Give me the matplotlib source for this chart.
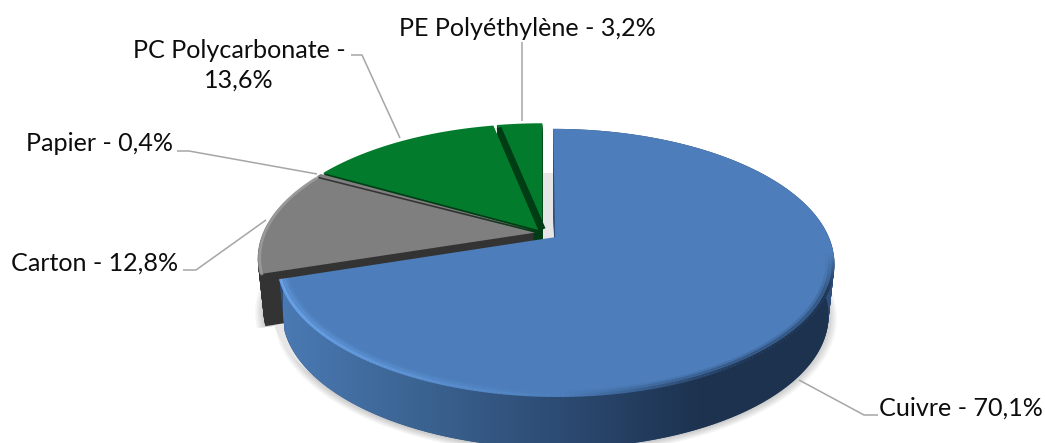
import matplotlib
matplotlib.use('Agg')
import matplotlib.pyplot as plt
import numpy as np
from matplotlib.collections import LineCollection
from matplotlib.colors import LinearSegmentedColormap, to_rgb
from matplotlib.patches import PathPatch
from matplotlib.path import Path
from matplotlib.transforms import Affine2D, Transform

# slices, clockwise from 12 o'clock
labels = ['Cuivre - 70,1%', 'Carton - 12,8%', 'Papier - 0,4%',
          'PC Polycarbonate -\n13,6%', 'PE Polyéthylène - 3,2%']
values = [70.1, 12.8, 0.4, 13.6, 3.2]
explode = [0.055, 0.03, 0.03, 0.03, 0.03]
top_colors = ['#4d7ebb', '#7f7f7f', '#7f7f7f', '#037b2d', '#037b2d']
side_colors = ['#2f4f7a', '#333333', '#333333', '#003c14', '#003c14']

W, H = 1045, 443
CX, CY = 543, 233   # pixel position of pie centre
A, B, K = 272.0, 127.3, -0.189
DEPTH = 52
SHRINK = 0.02


def tilt(xy, dy=0.0):
    xy = np.asarray(xy, dtype=float)
    d = 1 - K * xy[:, 1]
    s = 1 - SHRINK * dy / DEPTH
    return np.column_stack([CX + s * A * xy[:, 0] / d,
                            (H - CY) + B * xy[:, 1] / d - dy])


class Tilt(Transform):
    # perspective squash of the flat pie, output is in pixels
    input_dims = 2
    output_dims = 2
    is_separable = False
    has_inverse = False

    def __init__(self, dy=0.0):
        super().__init__()
        self.dy = dy

    def transform_non_affine(self, xy):
        return tilt(xy, self.dy)

    def transform_path_non_affine(self, path):
        # flatten curves at a large scale so the arc stays smooth
        big = path.transformed(Affine2D().scale(1000))
        v = big.to_polygons(closed_only=True)[0] / 1000
        return Path(tilt(v, self.dy), closed=True)


fig = plt.figure(figsize=(W / 100, H / 100), dpi=100)
ax = fig.add_axes([0, 0, 1, 1])
ax.axis('off')


def draw_pie(colors, dy, z, radius=1.0, expl=explode, alpha=None):
    wedges, _ = ax.pie(values, colors=colors, explode=expl, startangle=90,
                       counterclock=False, radius=radius, normalize=True)
    for w in wedges:
        w.set_zorder(z)
        w.set_transform(w.get_patch_transform() + Tilt(dy))
        w.set_edgecolor('none')
        w.set_clip_on(False)
        if alpha is not None:
            w.set_alpha(alpha)
    return wedges


def arc_points(w, r=1.0):
    t = np.radians(np.linspace(w.theta1, w.theta2, 300))
    return np.column_stack([w.center[0] + r * np.cos(t), w.center[1] + r * np.sin(t)])


# soft shadow under the pie
for i in range(7):
    draw_pie(['black'] * 5, DEPTH + 1, 1, radius=1 + 0.005 * i, alpha=0.03)
draw_pie(['#e6e6e6'] * 5, 47, 1, expl=[0] * 5)

for dy in range(DEPTH, 0, -1):
    draw_pie(side_colors, dy, 2)
tops = draw_pie(top_colors, 0, 5)

# gradient on the blue side wall, clipped to the band between top and bottom arc
arc = arc_points(tops[0])
band = np.vstack([tilt(arc, 0), tilt(arc[::-1], DEPTH)])
band_path = Path(np.vstack([band, band[:1]]), closed=True)
side_cmap = LinearSegmentedColormap.from_list(
    'side', ['#4a79b3', '#3b6391', '#2d4b73', '#1d3350', '#1c324e'])
grad = np.linspace(0, 1, 256).reshape(1, -1)
im = ax.imshow(grad, cmap=side_cmap, extent=[283, 835, 0, H], aspect='auto', zorder=3)
ax.set_xlim(0, W)
ax.set_ylim(0, H)
ax.set_aspect('auto')
im.set_clip_path(PathPatch(band_path, transform=ax.transData))

# bevel along the blue rim: light on the left, dark on the right
light = np.array(to_rgb('#6aa3e8'))
dark = np.array(to_rgb('#1d3350'))
base = np.array(to_rgb('#4d7ebb'))
for r, width, strength in [(0.996, 2.2, 1.0), (0.985, 2.5, 0.45), (0.975, 2.5, 0.18)]:
    rim = tilt(arc_points(tops[0], r))
    segs = np.stack([rim[:-1], rim[1:]], axis=1)
    seg_colors = []
    for s in segs:
        x, y = s[0, 0], H - s[0, 1]
        f = (x - 283) / (835 - 283)
        if f < 0.5:
            c = light + (base - light) * f / 0.5
            a = 1.0 if y > 250 else 0.0
        else:
            c = base + (dark - base) * min((f - 0.5) / 0.35, 1)
            a = np.clip((y - 255) / 35, 0, 1)
        seg_colors.append(np.append(c, a * strength))
    ax.add_collection(LineCollection(segs, colors=seg_colors, linewidths=width, zorder=6))

# lighter rim on the carton slice
gray_rim = tilt(arc_points(tops[1], 0.993))
ax.plot(gray_rim[:, 0], gray_rim[:, 1], color='#a3a3a3', lw=2, alpha=0.7, zorder=6)

# dark cut face on the left of the PE slice
pe = tops[4]
pe_t = np.radians(max(pe.theta1, pe.theta2))
pe_edge = tilt([pe.center,
                (pe.center[0] + 0.97 * np.cos(pe_t), pe.center[1] + 0.97 * np.sin(pe_t))])
ax.plot(pe_edge[:, 0] + 1, pe_edge[:, 1], color=side_colors[4], lw=3.6,
        zorder=6, solid_capstyle='butt')

# leader lines, pixel positions from top left
leaders = [[(799, 380), (864, 415), (878, 415)],
           [(266, 220), (196, 270), (183, 270)],
           [(317, 174), (189, 151), (177, 151)],
           [(400, 138), (362, 55), (351, 55)],
           [(522, 121), (522, 42)]]
for pts in leaders:
    px = [p[0] for p in pts]
    py = [H - p[1] for p in pts]
    ax.plot(px, py, color='#a6a6a6', lw=1.1, zorder=7, solid_capstyle='butt')

# label anchors, pixel positions from top left
anchors = [(1043, 408, 'right'), (178, 263, 'right'), (173, 143, 'right'),
           (239, 65, 'center'), (527, 28, 'center')]
for lab, (x, y, ha) in zip(labels, anchors):
    ax.text(x, H - y, lab, ha=ha, va='center', fontsize=18.1, family='Lato',
            color='#0d0d0d', linespacing=1.34, zorder=8)

plt.savefig('out.png', dpi=100)
